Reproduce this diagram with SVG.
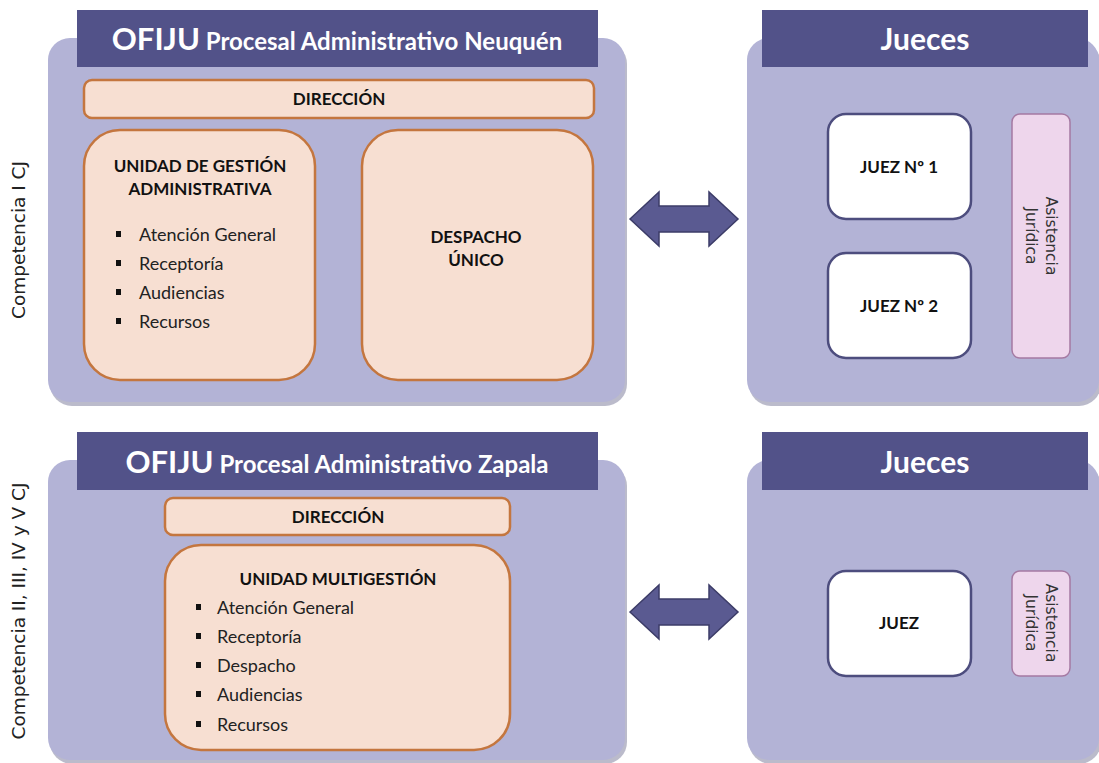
<svg xmlns="http://www.w3.org/2000/svg" width="1099" height="763" viewBox="0 0 1099 763">
<style>
.panel{fill:#b3b3d6;}
.shadow{fill:#8e8ea8;opacity:0.6;}
.hdr{fill:#525289;}
.hdrt{font-family:Lato,"Liberation Sans",sans-serif;font-weight:bold;fill:#ffffff;}
.unit{fill:#f7dfd2;stroke:#c4763f;stroke-width:2.5;}
.judge{fill:#ffffff;stroke:#4d4d7e;stroke-width:2.5;}
.asis{fill:#eed6ec;stroke:#a57aa3;stroke-width:1.5;}
.b{font-family:Lato,"Liberation Sans",sans-serif;font-weight:bold;font-size:17px;fill:#111;text-anchor:middle;}
.li{font-family:Lato,"Liberation Sans",sans-serif;font-size:18px;fill:#222;}
.side{font-family:"DejaVu Sans",sans-serif;font-size:18.5px;fill:#222;text-anchor:middle;}
.asist{font-family:"DejaVu Sans",sans-serif;font-size:15.5px;fill:#333;text-anchor:middle;}
.arrow{fill:#5a5a91;stroke:#3c3c68;stroke-width:1.5;}
</style>

<!-- Top-left OFIJU Neuquén -->
<g id="ofiju-neuquen">
  <rect class="shadow" x="50" y="42" width="577" height="364" rx="22"/>
  <rect class="panel" x="48" y="38" width="577" height="364" rx="22"/>
  <rect class="hdr" x="77" y="10" width="521" height="57"/>
  <text class="hdrt" x="337" y="50" text-anchor="middle"><tspan font-size="31">OFIJU</tspan><tspan font-size="24"> Procesal Administrativo Neuquén</tspan></text>
</g>
<g id="direccion-1">
  <rect class="unit" x="84" y="80" width="510" height="38" rx="8"/>
  <text class="b" x="339" y="105">DIRECCIÓN</text>
</g>
<g id="ugestion">
  <rect class="unit" x="84" y="130" width="231" height="250" rx="36"/>
  <text class="b" x="200" y="172">UNIDAD DE GESTIÓN</text>
  <text class="b" x="200" y="195">ADMINISTRATIVA</text>
  <rect x="116" y="231" width="5" height="6" fill="#111"/>
  <text class="li" x="139" y="241">Atención General</text>
  <rect x="116" y="260" width="5" height="6" fill="#111"/>
  <text class="li" x="139" y="270">Receptoría</text>
  <rect x="116" y="289" width="5" height="6" fill="#111"/>
  <text class="li" x="139" y="299">Audiencias</text>
  <rect x="116" y="318" width="5" height="6" fill="#111"/>
  <text class="li" x="139" y="328">Recursos</text>
</g>
<g id="despacho">
  <rect class="unit" x="362" y="130" width="231" height="250" rx="36"/>
  <text class="b" x="476" y="243">DESPACHO</text>
  <text class="b" x="476" y="266">ÚNICO</text>
</g>
<g id="label-competencia-1">
  <text class="side" transform="translate(25,240) rotate(-90)">Competencia I CJ</text>
</g>

<!-- Top-right Jueces -->
<g id="jueces-1">
  <rect class="shadow" x="749" y="42" width="352" height="364" rx="22"/>
  <rect class="panel" x="747" y="38" width="352" height="364" rx="22"/>
  <rect class="hdr" x="762" y="10" width="326" height="57"/>
  <text class="hdrt" x="925" y="50" font-size="30" text-anchor="middle">Jueces</text>
</g>
<g id="juez-1">
  <rect class="judge" x="828" y="114" width="143" height="105" rx="18"/>
  <text class="b" x="899" y="173">JUEZ Nº 1</text>
</g>
<g id="juez-2">
  <rect class="judge" x="828" y="253" width="143" height="105" rx="18"/>
  <text class="b" x="899" y="312">JUEZ Nº 2</text>
</g>
<g id="asistencia-1">
  <rect class="asis" x="1012" y="114" width="58" height="244" rx="8"/>
  <text class="asist" transform="translate(1041,236) rotate(90)"><tspan x="0" y="-5">Asistencia</tspan><tspan x="0" y="15">Jurídica</tspan></text>
</g>

<!-- Bottom-left OFIJU Zapala -->
<g id="ofiju-zapala">
  <rect class="shadow" x="50" y="464" width="577" height="300" rx="22"/>
  <rect class="panel" x="48" y="460" width="577" height="300" rx="22"/>
  <rect class="hdr" x="77" y="432" width="521" height="58"/>
  <text class="hdrt" x="337" y="473" text-anchor="middle"><tspan font-size="31">OFIJU</tspan><tspan font-size="24"> Procesal Administrativo Zapala</tspan></text>
</g>
<g id="direccion-2">
  <rect class="unit" x="165" y="498" width="345" height="37" rx="8"/>
  <text class="b" x="338" y="523">DIRECCIÓN</text>
</g>
<g id="multigestion">
  <rect class="unit" x="165" y="545" width="345" height="205" rx="36"/>
  <text class="b" x="338" y="585">UNIDAD MULTIGESTIÓN</text>
  <rect x="196" y="604" width="5" height="6" fill="#111"/>
  <text class="li" x="217" y="614">Atención General</text>
  <rect x="196" y="633" width="5" height="6" fill="#111"/>
  <text class="li" x="217" y="643">Receptoría</text>
  <rect x="196" y="662" width="5" height="6" fill="#111"/>
  <text class="li" x="217" y="672">Despacho</text>
  <rect x="196" y="691" width="5" height="6" fill="#111"/>
  <text class="li" x="217" y="701">Audiencias</text>
  <rect x="196" y="721" width="5" height="6" fill="#111"/>
  <text class="li" x="217" y="731">Recursos</text>
</g>
<g id="label-competencia-2">
  <text class="side" transform="translate(25,611) rotate(-90)">Competencia II, III, IV y V CJ</text>
</g>

<!-- Bottom-right Jueces -->
<g id="jueces-2">
  <rect class="shadow" x="749" y="464" width="352" height="300" rx="22"/>
  <rect class="panel" x="747" y="460" width="352" height="300" rx="22"/>
  <rect class="hdr" x="762" y="432" width="326" height="58"/>
  <text class="hdrt" x="925" y="473" font-size="30" text-anchor="middle">Jueces</text>
</g>
<g id="juez">
  <rect class="judge" x="828" y="571" width="143" height="105" rx="18"/>
  <text class="b" x="899" y="629">JUEZ</text>
</g>
<g id="asistencia-2">
  <rect class="asis" x="1012" y="571" width="58" height="105" rx="8"/>
  <text class="asist" transform="translate(1041,623) rotate(90)"><tspan x="0" y="-5">Asistencia</tspan><tspan x="0" y="15">Jurídica</tspan></text>
</g>

<!-- Connectors -->
<g id="connectors">
  <path class="arrow" d="M630,219 L659,192 L659,206 L709,206 L709,192 L738,219 L709,246 L709,232 L659,232 L659,246 Z"/>
  <path class="arrow" d="M630,612 L659,585 L659,599 L709,599 L709,585 L738,612 L709,639 L709,625 L659,625 L659,639 Z"/>
</g>
</svg>
